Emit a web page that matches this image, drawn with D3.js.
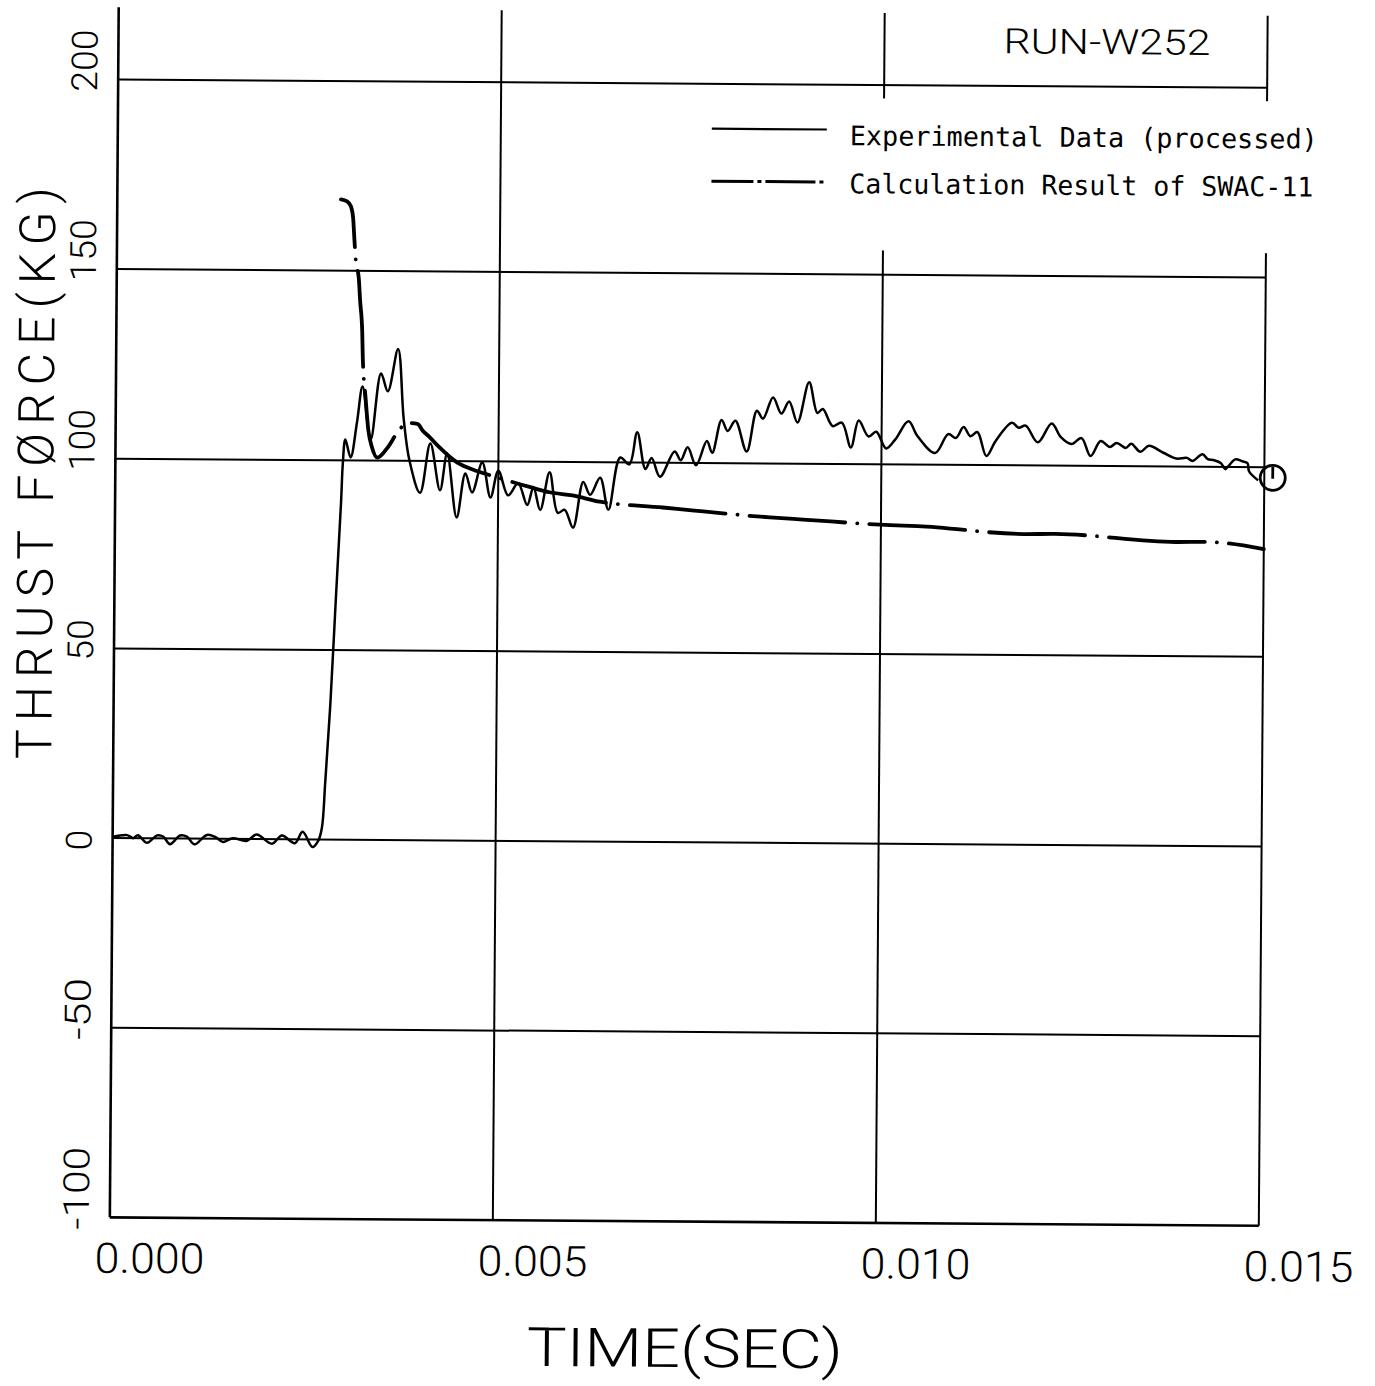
<!DOCTYPE html>
<html>
<head>
<meta charset="utf-8">
<script src="https://cdn.jsdelivr.net/npm/d3@7/dist/d3.min.js"></script>
<style>
  html, body { margin: 0; padding: 0; background: #fff; }
  svg { display: block; }
  .plot { font-family: Roboto, "DejaVu Sans", sans-serif; font-weight: 300; }
  .mono { font-family: "DejaVu Sans Mono", "Liberation Mono", monospace; font-weight: normal; }
</style>
</head>
<body>
<svg id="chart" width="1375" height="1386"></svg>
<script>
// ---------------- data (time in ms, force in KG) ----------------
const xTickValues = [0.000, 0.005, 0.010, 0.015];
const xTickLabels = ["0.000", "0.005", "0.010", "0.015"];
const yTickValues = [-100, -50, 0, 50, 100, 150, 200];
const yTickLabels = ["-100", "-50", "0", "50", "100", "150", "200"];

const legendLabels = ["Experimental Data (processed)", "Calculation Result of SWAC-11"];
const runLabel = "RUN-W252";
const xTitle = "TIME(SEC)";
const yTitle = "THRUST FØRCE(KG)";

// Experimental data (processed)
const expTimeMs = [0,0.19,0.27,0.33,0.45,0.58,0.66,0.75,0.88,0.97,1.07,1.23,1.34,1.44,1.57,1.75,1.88,2.08,2.21,2.38,2.48,2.61,2.68,2.73,2.77,2.83,2.89,2.95,2.97,3.00,3.07,3.15,3.22,3.33,3.46,3.55,3.68,3.76,3.84,3.98,4.11,4.24,4.33,4.46,4.57,4.66,4.79,4.90,5.00,5.13,5.26,5.38,5.46,5.55,5.67,5.78,5.87,5.98,6.11,6.20,6.33,6.44,6.59,6.71,6.81,6.92,7.00,7.11,7.30,7.38,7.47,7.58,7.72,7.79,7.91,7.99,8.09,8.24,8.37,8.45,8.58,8.69,8.79,8.90,9.05,9.16,9.23,9.36,9.48,9.60,9.70,9.83,9.93,10.06,10.18,10.35,10.47,10.70,10.87,10.97,11.07,11.16,11.25,11.37,11.49,11.70,11.79,11.88,12.04,12.22,12.34,12.48,12.61,12.73,12.86,12.98,13.07,13.19,13.26,13.38,13.49,13.68,13.85,13.99,14.06,14.19,14.26,14.33,14.43,14.49,14.53,14.62,14.71,14.78,14.80,14.92];
const expForce  = [0.3,0.8,0,0.8,-1.2,0.8,0.5,-1.5,0.8,0.5,-1.5,1.0,0.5,-0.8,0.2,-0.5,1.2,-1.2,1.0,-1.0,2.0,-2.0,-0.5,3,15,36,63,89,99.5,105.5,100.8,110,119.5,105.5,123,118.3,129.5,111,100,91.6,104.6,92.3,102,85.2,96.8,91.8,99.7,90.5,97.6,91.1,94.3,88.6,93.3,87.3,97.3,86.6,87.4,82.7,94.8,91.4,95.9,87.5,101.3,99.5,108,98.3,101.2,96.3,103,100.7,104.1,99.4,105.8,102.7,111.4,108.5,111.2,103.1,113.9,111.8,117.4,113.2,116.4,110.9,121.5,113.4,114.5,110,110.9,104.4,111.5,107.3,108.6,104.2,106.6,111.4,107.5,103.1,108.1,107.1,110,107.6,108.7,102.4,106.4,111.2,109.9,110.5,106.1,111.1,107.5,105.7,107.3,102.6,106.6,105,106.1,104.8,105.9,103.8,105.4,103.6,102.1,102.3,101.5,103.3,102,101.8,101,99.4,100.2,102,101.5,101,98.9,96.5];

// Calculation result of SWAC-11
const calcTimeMs = [2.92,3.00,3.05,3.08,3.10,3.12,3.16,3.18,3.21,3.22,3.26,3.30,3.35,3.42,3.55,3.68,3.81,3.94,4.01,4.09,4.22,4.46,4.73,4.99,5.42,5.67,5.97,6.33,7.15,7.53,8.55,8.98,10.12,10.48,11.87,12.27,13.85,14.23,15.0];
const calcForce  = [168.8,168.3,167,164,158,152.5,148.1,142,134,127,116.5,107.9,103.4,100.8,103.4,107.5,110,109.8,108,106.5,103.8,99.7,97.4,95.8,93.3,92,91.2,89.6,88.2,87.5,85.8,85.3,84,83.8,81.9,82,80.1,80.2,78.4];

// end-of-record plotter symbol
const endMarkTimeMs = [15.11];
const endMarkForce = [97.2];

// ---------------- drawing ----------------
const svg = d3.select("#chart");
svg.append("rect").attr("width", 1375).attr("height", 1386).attr("fill", "#fff");

const g = svg.append("g").attr("class", "plot").attr("transform", "rotate(0.42, 688, 652)");

const x = d3.scaleLinear().domain([0, 0.015]).range([114, 1263]);
const y = d3.scaleLinear().domain([-100, 200]).range([1221.6, 83.6]);
const yTop = 219;

// grid lines
g.selectAll("line.hgrid").data(yTickValues.filter(v => v > -100)).enter()
  .append("line").attr("class", "hgrid")
  .attr("x1", x(0)).attr("x2", x(0.015))
  .attr("y1", d => y(d)).attr("y2", d => y(d))
  .attr("stroke", "#000").attr("stroke-width", 2);

g.selectAll("line.vgrid").data(xTickValues.filter(v => v > 0)).enter()
  .append("line").attr("class", "vgrid")
  .attr("x1", d => x(d)).attr("x2", d => x(d))
  .attr("y1", y(-100)).attr("y2", y(yTop))
  .attr("stroke", "#000").attr("stroke-width", 2);

// axes
g.append("line").attr("x1", x(0)).attr("x2", x(0)).attr("y1", y(yTop)).attr("y2", y(-100))
  .attr("stroke", "#000").attr("stroke-width", 2.6);
g.append("line").attr("x1", x(0)).attr("x2", x(0.015)).attr("y1", y(-100)).attr("y2", y(-100))
  .attr("stroke", "#000").attr("stroke-width", 2.6);

// legend background (interrupts grid lines)
g.append("rect").attr("x", 695).attr("y", 97).attr("width", 640).attr("height", 152).attr("fill", "#fff");

// series
const expData = expTimeMs.map((t, i) => [t / 1000, expForce[i]]);
const calcData = calcTimeMs.map((t, i) => [t / 1000, calcForce[i]]);

const expLine = d3.line().x(d => x(d[0])).y(d => y(d[1])).curve(d3.curveCatmullRom.alpha(0.5));
const calcLine = d3.line().x(d => x(d[0])).y(d => y(d[1])).curve(d3.curveMonotoneX);

g.append("path").datum(expData).attr("d", expLine)
  .attr("fill", "none").attr("stroke", "#000").attr("stroke-width", 2.5).attr("stroke-linejoin", "round");

g.append("path").datum(calcData).attr("d", calcLine)
  .attr("fill", "none").attr("stroke", "#000").attr("stroke-width", 3.8)
  .attr("stroke-linecap", "round")
  .attr("stroke-dasharray", "96,12,0.1,12").attr("stroke-dashoffset", 42);

// end marker
const em = g.selectAll("g.endmark").data(endMarkTimeMs.map((t, i) => [t / 1000, endMarkForce[i]]))
  .enter().append("g").attr("class", "endmark");
em.append("circle").attr("cx", d => x(d[0])).attr("cy", d => y(d[1])).attr("r", 12.5)
  .attr("fill", "none").attr("stroke", "#000").attr("stroke-width", 2.8);
em.append("line").attr("x1", d => x(d[0])).attr("x2", d => x(d[0]))
  .attr("y1", d => y(d[1]) - 11).attr("y2", d => y(d[1]) + 1)
  .attr("stroke", "#000").attr("stroke-width", 2.8);

// y tick labels (rotated)
g.selectAll("text.ytick").data(yTickValues).enter().append("text").attr("class", "ytick")
  .attr("transform", d => `translate(93,${y(d) + 12.5}) rotate(-90)`)
  .attr("text-anchor", "start").attr("font-size", 36)
  .attr("textLength", (d, i) => yTickLabels[i].length * 20.7).attr("lengthAdjust", "spacingAndGlyphs")
  .text((d, i) => yTickLabels[i]);

// x tick labels
g.selectAll("text.xtick").data(xTickValues).enter().append("text").attr("class", "xtick")
  .attr("x", d => x(d) - 15).attr("y", 1277)
  .attr("text-anchor", "start").attr("font-size", 42)
  .attr("textLength", 110).attr("lengthAdjust", "spacingAndGlyphs")
  .text((d, i) => xTickLabels[i]);

// axis titles
g.append("text").attr("x", 532).attr("y", 1367).attr("font-size", 54)
  .attr("textLength", 316).attr("lengthAdjust", "spacingAndGlyphs").text(xTitle);
g.append("text").attr("transform", "translate(52,764) rotate(-90)").attr("font-size", 50)
  .attr("textLength", 572).attr("lengthAdjust", "spacing").text(yTitle);

// run label
g.append("text").attr("x", 999).attr("y", 51).attr("font-size", 35)
  .attr("textLength", 207).attr("lengthAdjust", "spacingAndGlyphs").text(runLabel);

// legend
g.append("line").attr("x1", 708).attr("x2", 823).attr("y1", 128.5).attr("y2", 128.5)
  .attr("stroke", "#000").attr("stroke-width", 2.2);
g.append("line").attr("x1", 708).attr("x2", 823).attr("y1", 181).attr("y2", 181)
  .attr("stroke", "#000").attr("stroke-width", 3)
  .attr("stroke-dasharray", "42,4,4,4,50,4,4,4");
g.selectAll("text.leg").data(legendLabels).enter().append("text").attr("class", "leg mono")
  .attr("x", 846).attr("y", (d, i) => 144 + i * 48)
  .attr("font-size", 27)
  .attr("textLength", (d, i) => i === 0 ? 468 : 464).attr("lengthAdjust", "spacingAndGlyphs")
  .text(d => d);
</script>
</body>
</html>
